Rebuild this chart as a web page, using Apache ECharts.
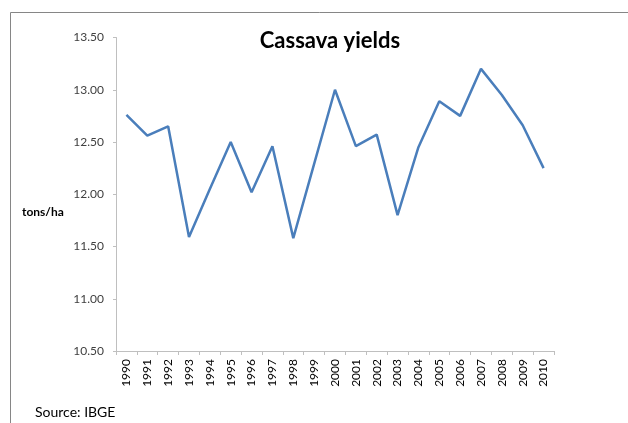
<!DOCTYPE html>
<html>
<head>
    <meta charset="utf-8">
    <title>Cassava yields</title>
    <script src="https://cdn.jsdelivr.net/npm/echarts@6/dist/echarts.min.js"></script>
</head>
<body style="margin:0;">
<div id="main" style="width:628px;height:423px;"></div>

<script type="text/javascript">
    var years = ['1990', '1991', '1992', '1993', '1994', '1995', '1996', '1997', '1998', '1999', '2000',
        '2001', '2002', '2003', '2004', '2005', '2006', '2007', '2008', '2009', '2010'];
    var yields = [12.76, 12.56, 12.65, 11.59, 12.05, 12.50, 12.02, 12.46, 11.58, 12.29, 13.00,
        12.46, 12.57, 11.80, 12.45, 12.89, 12.75, 13.20, 12.95, 12.66, 12.25];

    var font = 'Lato';
    var option = {
        backgroundColor: '#fff',
        animation: false,
        title: {
            text: 'Cassava yields',
            left: 325,
            top: 25,
            textAlign: 'center',
            textStyle: {fontFamily: font, fontSize: 22, fontWeight: 'bold', color: '#000'}
        },
        graphic: [{
            type: 'rect',
            shape: {x: 10.5, y: 12.5, width: 700, height: 500},
            style: {fill: null, stroke: '#868686', lineWidth: 1}
        }, {
            type: 'text',
            left: 22,
            top: 206,
            style: {text: 'tons/ha', font: 'bold 12px Lato', fill: '#000'}
        }, {
            type: 'text',
            left: 35,
            top: 405,
            style: {text: 'Source: IBGE', font: '14px Lato', fill: '#000'}
        }],
        grid: {left: 116, right: 74, top: 37.5, bottom: 72, containLabel: false},
        xAxis: {
            type: 'category',
            data: years,
            boundaryGap: true,
            axisLine: {lineStyle: {color: '#bfbfbf', width: 1}},
            axisTick: {show: true, length: 4, lineStyle: {color: '#bfbfbf'}},
            axisLabel: {rotate: 90, interval: 0, margin: 8, color: '#000',
                fontFamily: font, fontSize: 12}
        },
        yAxis: {
            type: 'value',
            min: 10.5,
            max: 13.5,
            interval: 0.5,
            splitLine: {show: false},
            axisLine: {show: true, lineStyle: {color: '#bfbfbf', width: 1}},
            axisTick: {show: true, length: 3, lineStyle: {color: '#bfbfbf'}},
            axisLabel: {margin: 12, color: '#404040', fontFamily: font, fontSize: 12,
                formatter: function (v) { return v.toFixed(2); }}
        },
        series: [{
            name: 'Cassava yields',
            type: 'line',
            data: yields,
            showSymbol: false,
            symbol: 'none',
            lineStyle: {color: '#4a7ebb', width: 2.5},
            itemStyle: {color: '#4a7ebb'}
        }]
    };

    var myChart = echarts.init(document.getElementById('main'));
    myChart.setOption(option);
</script>
</body>
</html>
